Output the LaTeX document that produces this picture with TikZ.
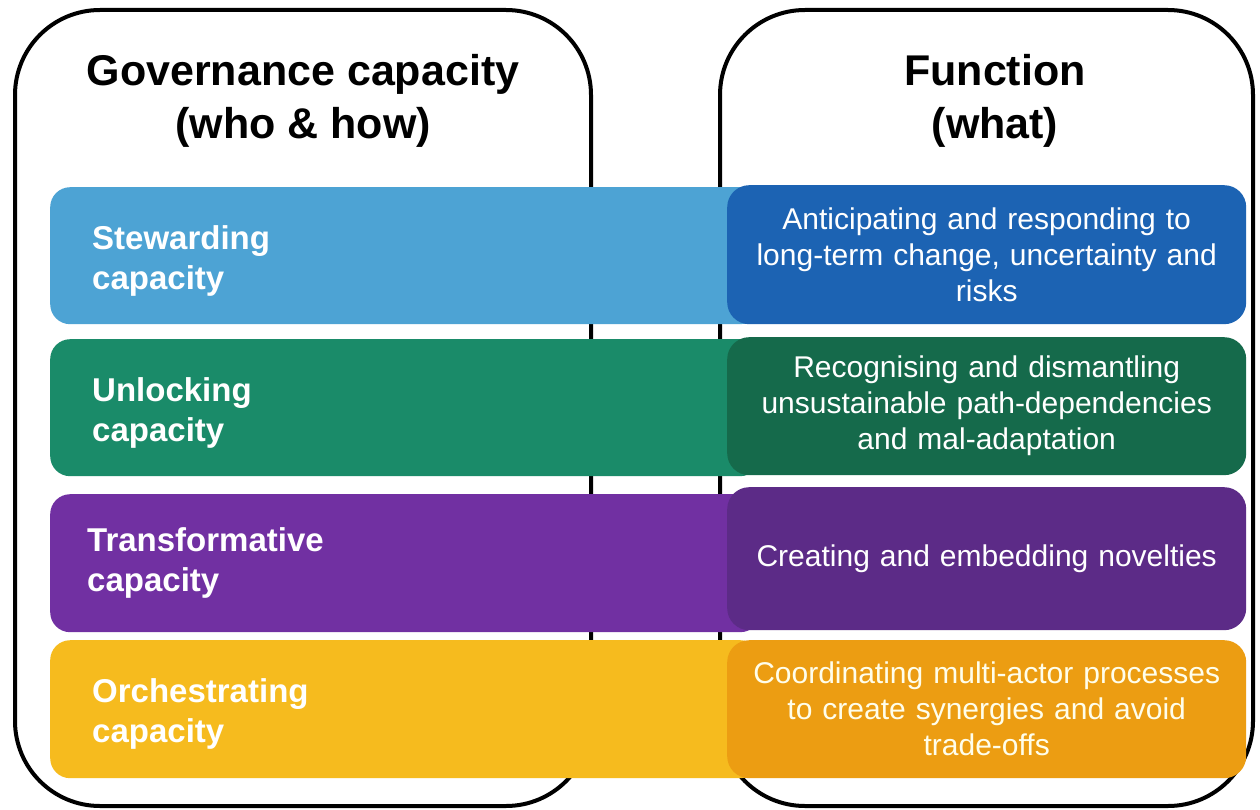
\documentclass[tikz,border=0pt]{standalone}
\usepackage{fontspec}
\setmainfont{Liberation Sans}
\definecolor{lblue}{HTML}{4DA3D4}
\definecolor{dblue}{HTML}{1C63B3}
\definecolor{lgreen}{HTML}{1A8B69}
\definecolor{dgreen}{HTML}{156A4B}
\definecolor{lpurple}{HTML}{7130A2}
\definecolor{dpurple}{HTML}{5C2B87}
\definecolor{lyellow}{HTML}{F6BB1E}
\definecolor{dorange}{HTML}{EC9D12}
\begin{document}
\begin{tikzpicture}[x=1pt,y=-1pt,
  frame/.style={draw=black,line width=4pt,rounded corners=85pt},
  title/.style={font=\fontsize{43}{53}\selectfont\bfseries,align=center,inner sep=0pt},
  lbar/.style={rounded corners=20pt,inner sep=0pt,anchor=north west,minimum width=710pt},
  rbox/.style={rounded corners=22pt,inner sep=0pt,anchor=north west,minimum width=519pt,text=white,align=center,text width=500pt,font=\fontsize{30}{36}\selectfont},
  llabel/.style={anchor=west,align=left,inner sep=0pt,text=white,font=\fontsize{33}{40}\selectfont\bfseries}]
\path[use as bounding box,fill=white] (0,0) rectangle (1260,810);
% frames
\draw[frame] (15,10) rectangle (591,806);
\draw[frame] (720,10) rectangle (1253,806);
\node[title] (t1) at (303,101) {Governance capacity\\(who \& how)};
\node[title] (t2) at (995,101) {Function\\(what)};
% left bars
\node[lbar,fill=lblue,minimum height=137pt] (b1) at (50,187) {};
\node[lbar,fill=lgreen,minimum height=137pt] (b2) at (50,339) {};
\node[lbar,fill=lpurple,minimum height=138pt] (b3) at (50,494) {};
\node[lbar,fill=lyellow,minimum height=138pt] (b4) at (50,640) {};
% left labels
\node[llabel] (l1) at (92,261) {Stewarding\\capacity};
\node[llabel] (l2) at (92,413) {Unlocking\\capacity};
\node[llabel] (l3) at (87,563) {Transformative\\capacity};
\node[llabel] (l4) at (92,714) {Orchestrating\\capacity};
% right boxes
\node[rbox,fill=dblue,minimum height=139pt] (r1) at (727,185) {Anticipating and responding to\\long-term change, uncertainty and\\risks};
\node[rbox,fill=dgreen,minimum height=138pt] (r2) at (727,337) {Recognising and dismantling\\unsustainable path-dependencies\\and mal-adaptation};
\node[rbox,fill=dpurple,minimum height=143pt] (r3) at (727,487) {Creating and embedding novelties};
\node[rbox,fill=dorange,minimum height=138pt,text=white!92!yellow] (r4) at (727,640) {Coordinating multi-actor processes\\to create synergies and avoid\\trade-offs};
\end{tikzpicture}
\end{document}
